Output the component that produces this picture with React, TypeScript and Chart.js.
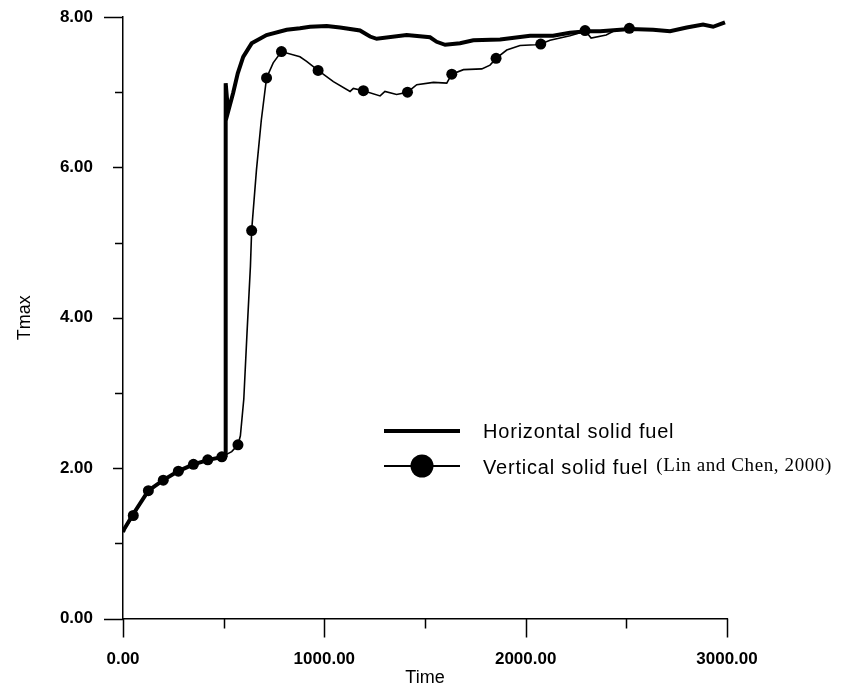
import React, { useEffect, useRef } from "react";
import { Chart, registerables } from "chart.js";

Chart.register(...registerables);

// Horizontal solid fuel (thick line)
const horizTime = [0, 6, 51, 126, 200, 275, 350, 425, 494, 507, 510, 522, 547, 570, 597, 639, 713, 813, 879, 929, 1012, 1078, 1177, 1227, 1260, 1409, 1525, 1558, 1600, 1674, 1740, 1873, 2022, 2136, 2220, 2303, 2370, 2519, 2633, 2717, 2800, 2881, 2931, 2990];
const horizTmax = [1.15, 1.19, 1.39, 1.7, 1.84, 1.96, 2.05, 2.11, 2.15, 2.17, 7.12, 6.74, 6.99, 7.25, 7.47, 7.65, 7.76, 7.83, 7.85, 7.87, 7.88, 7.86, 7.82, 7.74, 7.71, 7.76, 7.73, 7.67, 7.63, 7.65, 7.69, 7.7, 7.75, 7.75, 7.79, 7.81, 7.81, 7.84, 7.83, 7.81, 7.86, 7.9, 7.87, 7.93];

// Vertical solid fuel (Lin and Chen, 2000) (thin line with dots)
const vertTime = [0, 51, 126, 200, 275, 350, 421, 491, 540, 571, 583, 600, 616, 633, 639, 663, 687, 713, 746, 787, 879, 912, 969, 1045, 1128, 1144, 1194, 1277, 1301, 1359, 1413, 1459, 1542, 1608, 1633, 1691, 1782, 1823, 1853, 1906, 1972, 2047, 2075, 2121, 2220, 2270, 2295, 2325, 2400, 2450, 2515];
const vertTmax = [1.15, 1.37, 1.7, 1.84, 1.96, 2.05, 2.11, 2.15, 2.22, 2.31, 2.43, 2.92, 3.8, 4.69, 5.16, 5.97, 6.63, 7.19, 7.39, 7.54, 7.47, 7.41, 7.29, 7.14, 7.01, 7.05, 7.02, 6.95, 7.01, 6.97, 7.0, 7.1, 7.13, 7.12, 7.24, 7.3, 7.31, 7.36, 7.45, 7.56, 7.62, 7.63, 7.64, 7.69, 7.75, 7.79, 7.82, 7.72, 7.76, 7.83, 7.85];
const vertMarkerTime = [51, 126, 200, 275, 350, 421, 491, 571, 639, 713, 787, 969, 1194, 1413, 1633, 1853, 2075, 2295, 2515];

// Axis ticks
const xTickValues = [0, 500, 1000, 1500, 2000, 2500, 3000];
const xMajorTicks = [0, 1000, 2000, 3000];
const yTickValues = [0, 1, 2, 3, 4, 5, 6, 7, 8];
const yMajorTicks = [0, 2, 4, 6, 8];

const legendLabels = ["Horizontal solid fuel", "Vertical solid fuel"];
const legendCite = "(Lin and Chen, 2000)";
const xTitle = "Time";
const yTitle = "Tmax";

const SANS = "'Liberation Sans', Arial, Helvetica, sans-serif";
const SERIF = "'Liberation Serif', 'Times New Roman', serif";

const tickMarksPlugin = {
  id: "tickMarks",
  afterDraw(chart: any) {
    const { ctx, chartArea, scales } = chart;
    const xs = scales.x;
    const ys = scales.y;
    ctx.save();
    ctx.strokeStyle = "#000";
    ctx.lineWidth = 1.5;
    ctx.beginPath();
    xTickValues.forEach((v) => {
      const px = Math.round(xs.getPixelForValue(v)) + 0.5;
      const len = xMajorTicks.includes(v) ? 19 : 10;
      ctx.moveTo(px, chartArea.bottom);
      ctx.lineTo(px, chartArea.bottom + len);
    });
    yTickValues.forEach((v) => {
      const py = Math.round(ys.getPixelForValue(v)) + 0.5;
      let len = yMajorTicks.includes(v) ? 10 : 8;
      if (v === 0 || v === 8) len = 19;
      ctx.moveTo(chartArea.left, py);
      ctx.lineTo(chartArea.left - len, py);
    });
    ctx.stroke();
    ctx.restore();
  },
};

const legendPlugin = {
  id: "customLegend",
  afterDraw(chart: any) {
    const { ctx, chartArea } = chart;
    const x0 = chartArea.left + 261;
    const x1 = chartArea.left + 337;
    const y1 = chartArea.top + 414;
    const y2 = chartArea.top + 449;
    const tx = chartArea.left + 360;
    ctx.save();
    ctx.strokeStyle = "#000";
    ctx.fillStyle = "#000";
    // Row 1: thick line
    ctx.lineWidth = 4;
    ctx.beginPath();
    ctx.moveTo(x0, y1);
    ctx.lineTo(x1, y1);
    ctx.stroke();
    // Row 2: thin line with big dot
    ctx.lineWidth = 2;
    ctx.beginPath();
    ctx.moveTo(x0, y2);
    ctx.lineTo(x1, y2);
    ctx.stroke();
    ctx.beginPath();
    ctx.arc((x0 + x1) / 2, y2, 11.5, 0, Math.PI * 2);
    ctx.fill();
    // Texts
    ctx.textBaseline = "middle";
    ctx.textAlign = "left";
    ctx.font = `20px ${SANS}`;
    try { (ctx as any).letterSpacing = "0.8px"; } catch (e) {}
    ctx.fillText(legendLabels[0], tx, y1 + 1);
    ctx.fillText(legendLabels[1], tx, y2 + 2);
    const w = ctx.measureText(legendLabels[1]).width;
    ctx.font = `19px ${SERIF}`;
    try { (ctx as any).letterSpacing = "0.6px"; } catch (e) {}
    ctx.fillText(legendCite, tx + w + 8, y2);
    ctx.restore();
  },
};

export default function App() {
  const canvasRef = useRef<HTMLCanvasElement | null>(null);

  useEffect(() => {
    const canvas = canvasRef.current;
    if (!canvas) return;
    const markerSet = new Set(vertMarkerTime);
    const chart = new Chart(canvas, {
      type: "line",
      data: {
        datasets: [
          {
            label: legendLabels[0],
            data: horizTime.map((t, i) => ({ x: t, y: horizTmax[i] })),
            borderColor: "#000",
            borderWidth: 4,
            pointRadius: 0,
            tension: 0,
            fill: false,
          },
          {
            label: legendLabels[1],
            data: vertTime.map((t, i) => ({ x: t, y: vertTmax[i] })),
            borderColor: "#000",
            backgroundColor: "#000",
            borderWidth: 1.6,
            pointRadius: (c: any) => (markerSet.has(vertTime[c.dataIndex]) ? 5.5 : 0),
            pointHoverRadius: 0,
            pointBorderWidth: 0,
            tension: 0,
            fill: false,
          },
        ],
      },
      options: {
        animation: false,
        responsive: false,
        maintainAspectRatio: false,
        events: [],
        layout: { padding: { top: 9, right: 110, left: 0, bottom: 0 } },
        plugins: {
          legend: { display: false },
          tooltip: { enabled: false },
        },
        scales: {
          x: {
            type: "linear",
            min: 0,
            max: 3000,
            afterFit: (s: any) => {
              s.height = 65.5;
              s.paddingLeft = 0;
              s.paddingRight = 0;
            },
            afterBuildTicks: (s: any) => { s.ticks = xMajorTicks.map((v) => ({ value: v })); },
            ticks: {
              stepSize: 1000,
              padding: 31,
              color: "#000",
              maxRotation: 0,
              font: { family: SANS, size: 17, weight: "bold" },
              callback: (v: any) => Number(v).toFixed(2),
            },
            grid: { display: false, drawTicks: false },
            border: { display: true, color: "#000", width: 1.5 },
            title: {
              display: true,
              text: xTitle,
              color: "#000",
              font: { family: SANS, size: 18, lineHeight: 1 },
              padding: { top: 0, bottom: -3 },
            },
          },
          y: {
            type: "linear",
            min: 0,
            max: 8,
            afterFit: (s: any) => {
              s.width = 115;
              s.paddingTop = 0;
              s.paddingBottom = 0;
            },
            afterBuildTicks: (s: any) => { s.ticks = yMajorTicks.map((v) => ({ value: v })); },
            ticks: {
              stepSize: 2,
              padding: 30,
              color: "#000",
              font: { family: SANS, size: 17, weight: "bold" },
              callback: (v: any) => Number(v).toFixed(2),
            },
            grid: { display: false, drawTicks: false },
            border: { display: true, color: "#000", width: 1.5 },
            title: {
              display: true,
              text: yTitle,
              color: "#000",
              font: { family: SANS, size: 18, lineHeight: 1 },
              padding: { top: 8, bottom: 0 },
            },
          },
        },
      },
      plugins: [tickMarksPlugin, legendPlugin],
    });
    return () => chart.destroy();
  }, []);

  return (
    <div style={{ width: 829, height: 676 }}>
      <canvas ref={canvasRef} width={829} height={676} style={{ display: "block" }} />
    </div>
  );
}
